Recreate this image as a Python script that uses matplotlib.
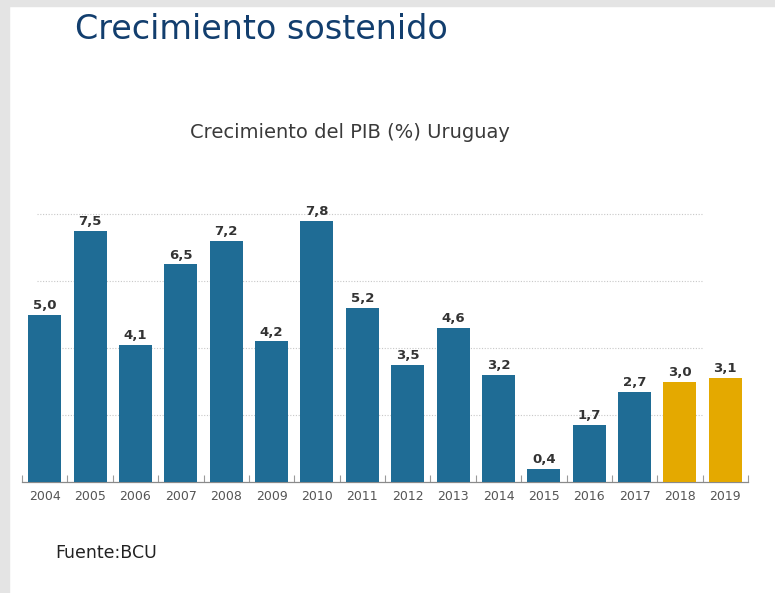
import matplotlib.pyplot as plt
import matplotlib.patches as patches
import numpy as np

years = ["2004", "2005", "2006", "2007", "2008", "2009", "2010", "2011",
         "2012", "2013", "2014", "2015", "2016", "2017", "2018", "2019"]
growth = [5.0, 7.5, 4.1, 6.5, 7.2, 4.2, 7.8, 5.2,
          3.5, 4.6, 3.2, 0.4, 1.7, 2.7, 3.0, 3.1]
projected = ["2018", "2019"]

blue = "#1f6c95"
gold = "#e4a900"

W, H = 775, 593
fig = plt.figure(figsize=(W / 100, H / 100), dpi=100)
fig.patch.set_facecolor("white")

# grey frame strips like the screenshot
fig.add_artist(patches.Rectangle((0, 0), 9 / W, 1, transform=fig.transFigure,
                                 color="#e4e4e4", zorder=0))
fig.add_artist(patches.Rectangle((0, 1 - 6 / H), 1, 6 / H, transform=fig.transFigure,
                                 color="#e4e4e4", zorder=0))

# axes: x from 22px to 748px, baseline at y=482, value 8 at y=214
left, right = 22, 748
base, top = 482, 200
ax = fig.add_axes([left / W, (H - base) / H, (right - left) / W, (base - top) / H])
ymax = 8 * (base - top) / (base - 214)
ax.set_xlim(-0.5, len(years) - 0.5)
ax.set_ylim(0, ymax)

x = np.arange(len(years))
colors = [gold if y in projected else blue for y in years]
ax.bar(x, growth, width=0.73, color=colors, zorder=3)

for gv in [2, 4, 6, 8]:
    ax.hlines(gv, -0.18, 14.5, colors="#c8c8c8", linestyles=(0, (1, 1.5)),
              linewidth=0.8, zorder=1)

for xi, v in zip(x, growth):
    ax.text(xi, v + 0.08, f"{v:.1f}".replace(".", ","), ha="center", va="bottom",
            fontsize=9.5, color="#333333", fontweight="semibold", family="DejaVu Sans")

for s in ["top", "right", "left"]:
    ax.spines[s].set_visible(False)
ax.spines["bottom"].set_color("#8a8a8a")
ax.spines["bottom"].set_linewidth(0.9)
ax.set_yticks([])
ax.set_xticks(x)
ax.set_xticklabels(years, fontsize=9, color="#555555")
ax.tick_params(axis="x", length=0, pad=6)
ax.set_xticks(np.arange(-0.5, len(years)), minor=True)
ax.tick_params(axis="x", which="minor", direction="in", length=5,
               color="#9a9a9a", width=0.8)

fig.text(75 / W, 1 - 39 / H, "Crecimiento sostenido", fontsize=24,
         color="#123e6e", family="DejaVu Sans", va="baseline", ha="left")
fig.text(350 / W, 1 - 138 / H, "Crecimiento del PIB (%) Uruguay", fontsize=14,
         color="#3a3a3a", ha="center", va="baseline")
fig.text(55 / W, 1 - 558 / H, "Fuente:BCU", fontsize=12.5, color="#222222",
         ha="left", va="baseline", family="DejaVu Sans")

fig.savefig("out.png", dpi=100)
